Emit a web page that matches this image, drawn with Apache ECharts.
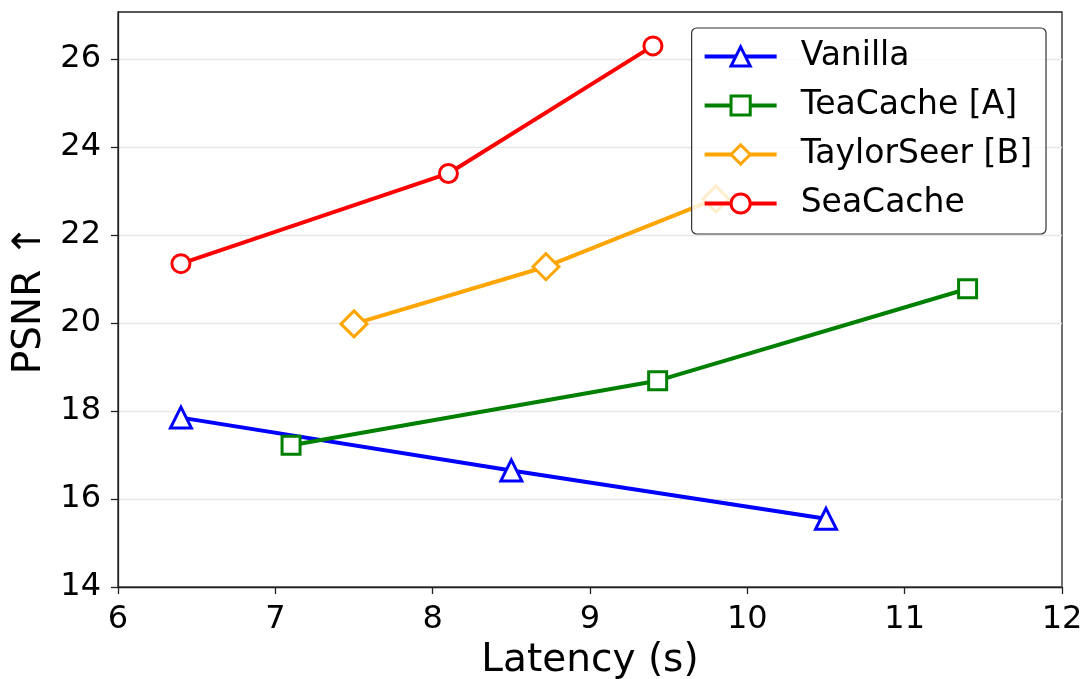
<!DOCTYPE html>
<html style="height: 100%;">
<head>
<meta charset="utf-8">
<title>PSNR vs Latency</title>
<script src="https://cdn.jsdelivr.net/npm/echarts@6/dist/echarts.min.js"></script>
</head>
<body style="height: 100%; margin: 0; background: #fff;">
<div id="container" style="width: 1084px; height: 679px;"></div>
<script type="text/javascript">
// data
var seriesNames = ['Vanilla', 'TeaCache [A]', 'TaylorSeer [B]', 'SeaCache'];
var vanilla = [[6.4, 17.85], [8.5, 16.65], [10.5, 15.55]];
var teaCache = [[7.1, 17.22], [9.43, 18.69], [11.4, 20.78]];
var taylorSeer = [[7.5, 19.98], [8.72, 21.28], [9.8, 22.82]];
var seaCache = [[6.4, 21.35], [8.1, 23.4], [9.4, 26.3]];
var yTicks = [14, 16, 18, 20, 22, 24, 26];
var xTicks = [6, 7, 8, 9, 10, 11, 12];

var font = 'DejaVu Sans';
var colors = ['#0000ff', '#008000', '#ffa500', '#ff0000'];
var symbols = ['triangle', 'rect', 'diamond', 'circle'];
var sizes = [21, 18, 26, 18];
var datas = [vanilla, teaCache, taylorSeer, seaCache];

var dom = document.getElementById('container');
var myChart = echarts.init(dom);

var series = [];
for (var i = 0; i < seriesNames.length; i++) {
    series.push({
        name: seriesNames[i],
        type: 'line',
        data: datas[i],
        color: colors[i],
        symbol: symbols[i],
        symbolSize: sizes[i],
        showAllSymbol: true,
        lineStyle: { color: colors[i], width: 4 },
        itemStyle: { color: '#fff', borderColor: colors[i], borderWidth: 3 },
        emphasis: { disabled: true },
        animation: false
    });
}

var option = {
    animation: false,
    grid: {
        left: 118, right: 22, top: 12, bottom: 92,
        outerBoundsMode: 'none',
        containLabel: false,
        show: true, borderColor: '#222', borderWidth: 1.3
    },
    legend: {
        right: 38, top: 28,
        orient: 'vertical',
        itemWidth: 72, itemHeight: 24, itemGap: 16,
        padding: [12, 14, 14, 11],
        backgroundColor: 'rgba(255,255,255,0.8)',
        borderColor: '#333', borderWidth: 1.2, borderRadius: 5,
        lineStyle: { width: 4 },
        itemStyle: { borderWidth: 3 },
        textStyle: { fontFamily: font, fontSize: 33, color: '#000', lineHeight: 30, padding: [0, 0, 0, 19] },
        data: seriesNames
    },
    xAxis: {
        type: 'value',
        min: 6, max: 12, interval: 1,
        name: 'Latency (s)',
        nameLocation: 'middle',
        nameGap: 54,
        nameTextStyle: { fontFamily: font, fontSize: 39, color: '#000' },
        axisLine: { show: true, lineStyle: { color: '#222', width: 1.3 } },
        axisTick: { show: true, inside: false, length: 7, lineStyle: { color: '#222', width: 1.3 } },
        axisLabel: { fontFamily: font, fontSize: 32, color: '#000', margin: 17, customValues: xTicks },
        splitLine: { show: false }
    },
    yAxis: {
        type: 'value',
        min: 14, max: 27.07, interval: 2,
        name: 'PSNR ↑',
        nameLocation: 'middle',
        nameGap: 65,
        nameTextStyle: { fontFamily: font, fontSize: 39, color: '#000' },
        axisLine: { show: true, lineStyle: { color: '#222', width: 1.3 } },
        axisTick: { show: true, inside: false, length: 7, lineStyle: { color: '#222', width: 1.3 }, customValues: yTicks },
        axisLabel: { fontFamily: font, fontSize: 32, color: '#000', margin: 17, customValues: yTicks },
        splitLine: { show: true, lineStyle: { color: '#e6e6e6', width: 1.3 } }
    },
    series: series
};

myChart.setOption(option);
window.onresize = function () { myChart.resize(); };
</script>
</body>
</html>
